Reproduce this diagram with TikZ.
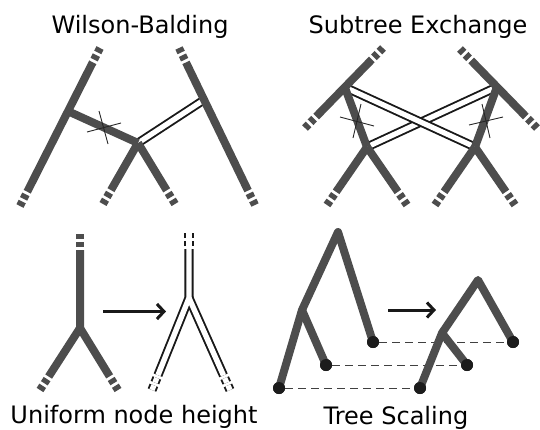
\documentclass[tikz,border=0pt]{standalone}
\usepackage{fontspec}
\setmainfont{DejaVu Sans}
\usetikzlibrary{calc,arrows.meta}
\definecolor{brc}{HTML}{4D4D4D}
\definecolor{dotc}{HTML}{1C1C1C}
\tikzset{
 br/.style={line width=8pt, draw=brc},
 dblout/.style={line width=9.2pt, draw=black!90},
 dblin/.style={line width=5.4pt, draw=white},
 dbl/.style={draw=black!90, line width=1.9pt, double=white, double distance=5.2pt},
 crs/.style={line width=0.9pt, draw=black!85},
 lab/.style={font=\fontsize{24}{28}\selectfont, anchor=base, inner sep=0pt},
 arr/.style={line width=3pt, draw=black!90, -{Straight Barb[length=7pt,width=15pt]}},
 lvl/.style={line width=1pt, draw=black!75, dash pattern=on 8pt off 5pt},
 dot/.style={circle, fill=dotc, inner sep=0pt, minimum size=12pt},
}
\newcommand\openseg[3]{%
  \draw[#1] (#2) -- ($(#3)!16pt!(#2)$);
  \draw[#1,dash pattern=on 5pt off 3pt] ($(#3)!13pt!(#2)$) -- (#3);}
\newcommand\openline[3]{%
  \draw[#1] ($(#2)!16pt!(#3)$) -- ($(#3)!16pt!(#2)$);
  \draw[#1,dash pattern=on 5pt off 3pt] ($(#2)!13pt!(#3)$) -- (#2);
  \draw[#1,dash pattern=on 5pt off 3pt] ($(#3)!13pt!(#2)$) -- (#3);}
\begin{document}
\begin{tikzpicture}[x=1pt,y=-1pt]
\useasboundingbox (0,0) rectangle (540,429);

% ---------- Wilson-Balding ----------
\node[lab] (t1) at (140,33) {Wilson-Balding};
\coordinate (wT1) at (100,48);
\coordinate (wL1) at (20,206);
\coordinate (wA) at ($(wT1)!0.4!(wL1)$);
\coordinate (wB) at (138,143);
\coordinate (wBL) at (103,204);
\coordinate (wBR) at (175,204);
\coordinate (wT2) at (179,48);
\coordinate (wR2) at (255,205);
\coordinate (wC) at ($(wT2)!0.33!(wR2)$);
\draw[dbl] (wB) -- (wC);
\openline{br}{wT1}{wL1}
\openline{br}{wT2}{wR2}
\draw[br] (wA) -- (wB);
\openseg{br}{wB}{wBL}
\openseg{br}{wB}{wBR}
\coordinate (wx1) at (87,132); \coordinate (wx2) at (121,123);
\coordinate (wx3) at (99,111); \coordinate (wx4) at (108,144);
\draw[crs] (wx1) -- (wx2);
\draw[crs] (wx3) -- (wx4);

% ---------- Subtree Exchange ----------
\node[lab] (t2) at (418,33) {Subtree Exchange};
\coordinate (sDT) at (383,48);
\coordinate (sDB) at (305,128);
\coordinate (sD) at ($(sDT)!0.49!(sDB)$);
\coordinate (sE) at (367,147);
\coordinate (sEL) at (327,205);
\coordinate (sER) at (407,205);
\coordinate (sFT) at (460,49);
\coordinate (sFB) at (537,128);
\coordinate (sF) at ($(sFT)!0.48!(sFB)$);
\coordinate (sG) at (475,147);
\coordinate (sGL) at (435,205);
\coordinate (sGR) at (515,205);
\draw[dbl] (sF) -- (sE);
\draw[dbl] (sD) -- (sG);
\openline{br}{sDT}{sDB}
\openline{br}{sFT}{sFB}
\draw[br] (sD) -- (sE);
\draw[br] (sF) -- (sG);
\openseg{br}{sE}{sEL}
\openseg{br}{sE}{sER}
\openseg{br}{sG}{sGL}
\openseg{br}{sG}{sGR}
\coordinate (sx1) at (340,117); \coordinate (sx2) at (374,126);
\coordinate (sx3) at (361,104); \coordinate (sx4) at (353,138);
\draw[crs] (sx1) -- (sx2);
\draw[crs] (sx3) -- (sx4);
\coordinate (sx5) at (469,125); \coordinate (sx6) at (503,117);
\coordinate (sx7) at (482,104); \coordinate (sx8) at (490,138);
\draw[crs] (sx5) -- (sx6);
\draw[crs] (sx7) -- (sx8);

% ---------- Uniform node height ----------
\node[lab] (t3) at (134,423) {Uniform node height};
\coordinate (uT) at (80,234);
\coordinate (uH) at (80,328);
\coordinate (uL) at (40,390);
\coordinate (uR) at (118,390);
\draw[br, line join=round] ($(uT)!16pt!(uH)$) -- (uH) -- ($(uL)!16pt!(uH)$);
\draw[br] (uH) -- ($(uR)!16pt!(uH)$);
\draw[br,dash pattern=on 5pt off 3pt] ($(uT)!13pt!(uH)$) -- (uT);
\draw[br,dash pattern=on 5pt off 3pt] ($(uL)!13pt!(uH)$) -- (uL);
\draw[br,dash pattern=on 5pt off 3pt] ($(uR)!13pt!(uH)$) -- (uR);

\coordinate (a1s) at (103,311.5);
\coordinate (a1e) at (166,311.5);
\draw[arr] (a1s) -- (a1e);

\coordinate (vT) at (189,233);
\coordinate (vH) at (189,298);
\coordinate (vL) at (152,390);
\coordinate (vR) at (230,390);
\foreach \s in {dblout,dblin}{
  \draw[\s] ($(vT)!16pt!(vH)$) -- (vH) -- ($(vL)!16pt!(vH)$);
  \draw[\s] (vH) -- ($(vR)!16pt!(vH)$);
  \draw[\s,dash pattern=on 5pt off 3pt] ($(vT)!13pt!(vH)$) -- (vT);
  \draw[\s,dash pattern=on 5pt off 3pt] ($(vL)!13pt!(vH)$) -- (vL);
  \draw[\s,dash pattern=on 5pt off 3pt] ($(vR)!13pt!(vH)$) -- (vR);
}

% ---------- Tree Scaling ----------
\node[lab] (t4) at (396,424) {Tree Scaling};
\coordinate (pR) at (338,232);
\coordinate (pI) at (302,310);
\node[dot] (p1) at (279,388) {};
\node[dot] (p2) at (326,365) {};
\node[dot] (p3) at (373,342) {};
\coordinate (qR) at (478,280);
\coordinate (qI) at (442,333);
\node[dot] (q1) at (420,388) {};
\node[dot] (q2) at (467,365) {};
\node[dot] (q3) at (513,342) {};
\draw[lvl] (p3) -- (q3);
\draw[lvl] (p2) -- (q2);
\draw[lvl] (p1) -- (q1);
\draw[br, line join=round] (p1.center) -- (pI) -- (pR) -- (p3.center);
\draw[br] (pI) -- (p2.center);
\draw[br, line join=round] (q1.center) -- (qI) -- (qR) -- (q3.center);
\draw[br] (qI) -- (q2.center);
\foreach \n in {p1,p2,p3,q1,q2,q3}{ \fill[dotc] (\n) circle (6pt); }
\coordinate (a2s) at (388,310);
\coordinate (a2e) at (436,310);
\draw[arr] (a2s) -- (a2e);
\end{tikzpicture}
\end{document}
